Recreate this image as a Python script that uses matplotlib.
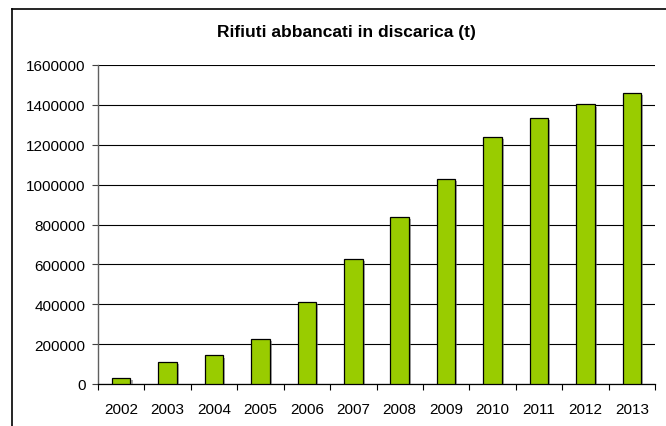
import matplotlib
matplotlib.use("Agg")
import matplotlib.pyplot as plt
import matplotlib.patheffects as pe
from matplotlib.lines import Line2D
import numpy as np

years = ["2002", "2003", "2004", "2005", "2006", "2007", "2008", "2009", "2010", "2011", "2012", "2013"]
values = [30000, 110000, 143000, 226000, 413000, 628000, 836000, 1030000, 1240000, 1333000, 1402000, 1460000]
yticks = [0, 200000, 400000, 600000, 800000, 1000000, 1200000, 1400000, 1600000]
title = "Rifiuti abbancati in discarica (t)"

plt.rcParams['font.family'] = ['Liberation Sans', 'DejaVu Sans']

W, H = 666, 427
fig = plt.figure(figsize=(W/100, H/100), dpi=100)
ax = fig.add_axes([98/W, 1-385/H, (655-98)/W, (385-66)/H])

x = np.arange(len(years))
bars = ax.bar(x, values, width=0.4, color='#99CC00', edgecolor='black', linewidth=0.9, zorder=3)
for b in bars:
    b.set_path_effects([pe.SimplePatchShadow(offset=(1.5, -1.5), shadow_rgbFace='#707070', alpha=0.6), pe.Normal()])

ax.set_xlim(-0.5, len(years)-0.5)
ax.set_ylim(0, 1600000)
ax.set_yticks(yticks)
ax.set_yticklabels([str(v) for v in yticks], fontsize=11)
ax.yaxis.grid(True, color='black', linewidth=0.8, zorder=0)
ax.set_axisbelow(True)

ax.set_xticks(np.arange(-0.5, len(years), 1.0))
ax.set_xticklabels([])
ax.set_xticks(x, minor=True)
ax.set_xticklabels(years, minor=True, fontsize=11)
ax.tick_params(axis='x', which='major', length=4, width=0.8, direction='out', color='black')
ax.tick_params(axis='x', which='minor', length=0, pad=13)
ax.tick_params(axis='y', length=4, width=0.8, direction='out', color='#404040', pad=5)

for s in ['top', 'right']:
    ax.spines[s].set_visible(False)
ax.spines['left'].set_color('#606060')
ax.spines['left'].set_linewidth(1.0)
ax.spines['bottom'].set_color('black')
ax.spines['bottom'].set_linewidth(0.9)

fig.text(346/W, 1-33/H, title, ha='center', va='center', fontsize=12.5, fontweight='bold')

# chart frame
fig.add_artist(Line2D([12/W, 12/W], [0, 1-10/H], color='black', linewidth=1.2, transform=fig.transFigure))
fig.add_artist(Line2D([12/W, 1], [1-10/H, 1-10/H], color='black', linewidth=1.2, transform=fig.transFigure))

fig.savefig("out.png", dpi=100)
